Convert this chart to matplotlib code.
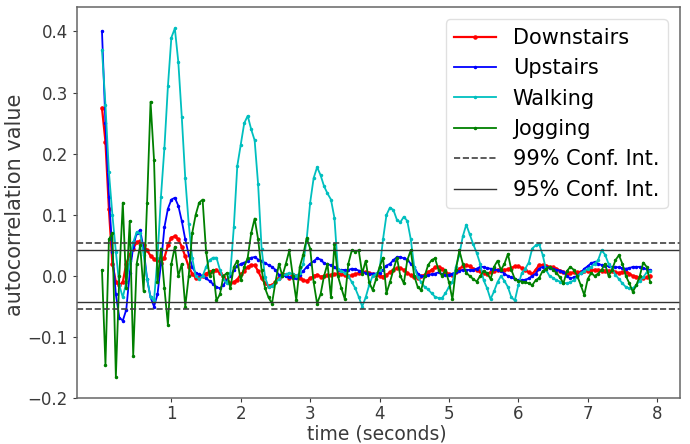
import numpy as np
import matplotlib
matplotlib.use("Agg")
import matplotlib.pyplot as plt

# time axis: 20 Hz lags
time_s = np.arange(159) * 0.05

downstairs = [
    0.275, 0.22, 0.11, 0.02, -0.01, -0.015, -0.01, 0.02, 0.035, 0.045,
    0.055, 0.057, 0.05, 0.042, 0.033, 0.028, 0.026, 0.022, 0.03, 0.05,
    0.063, 0.065, 0.06, 0.048, 0.032, 0.015, 0.004, -0.003, -0.002, 0.0,
    0.004, 0.007, 0.009, 0.01, 0.005, 0.0, -0.008, -0.012, -0.01, -0.006,
    0.003, 0.008, 0.015, 0.018, 0.018, 0.008, -0.004, -0.012, -0.016, -0.015,
    -0.01, -0.003, 0.004, 0.002, -0.003, 0.002, 0.0, -0.003, -0.007, -0.008,
    -0.004, 0.0, 0.002, -0.001, 0.0, 0.001, 0.002, 0.003, 0.004, 0.003,
    0.001, 0.0, 0.001, 0.003, 0.005, 0.007, 0.007, 0.005, 0.003, 0.002,
    0.0, -0.001, 0.002, 0.006, 0.01, 0.013, 0.013, 0.01, 0.005, 0.001,
    -0.002, -0.003, 0.0, 0.002, 0.006, 0.01, 0.014, 0.015, 0.012, 0.007,
    0.003, 0.002, 0.006, 0.012, 0.016, 0.018, 0.016, 0.012, 0.01, 0.008,
    0.005, 0.004, 0.006, 0.009, 0.01, 0.01, 0.01, 0.011, 0.013, 0.016,
    0.016, 0.013, 0.01, 0.006, 0.003, 0.01, 0.018, 0.018, 0.017, 0.015,
    0.014, 0.012, 0.009, 0.006, 0.004, 0.005, 0.006, 0.006, 0.007, 0.008,
    0.009, 0.01, 0.01, 0.01, 0.009, 0.009, 0.009, 0.008, 0.006, 0.005,
    0.006, 0.007, 0.004, 0.0, -0.001, -0.003, -0.004, -0.002, 0.0,
]

upstairs = [
    0.40, 0.25, 0.13, 0.04, -0.03, -0.068, -0.073, -0.055, 0.005, 0.048,
    0.07, 0.075, 0.045, -0.005, -0.035, -0.05, -0.03, 0.02, 0.08, 0.11,
    0.125, 0.128, 0.115, 0.09, 0.06, 0.035, 0.015, 0.005, 0.003, 0.0,
    -0.004, -0.008, -0.013, -0.018, -0.02, -0.015, -0.006, 0.0, 0.01, 0.016,
    0.02, 0.022, 0.024, 0.03, 0.031, 0.027, 0.025, 0.021, 0.018, 0.015,
    0.01, 0.002, 0.0, 0.0, -0.002, -0.003, -0.004, 0.002, 0.008, 0.015,
    0.02, 0.024, 0.029, 0.027, 0.021, 0.019, 0.018, 0.014, 0.01, 0.01,
    0.01, 0.01, 0.012, 0.011, 0.009, 0.007, 0.005, 0.004, 0.004, 0.004,
    0.005, 0.01, 0.017, 0.02, 0.026, 0.031, 0.031, 0.029, 0.027, 0.02,
    0.015, 0.004, 0.0, 0.0, 0.001, 0.003, 0.004, 0.006, 0.003, 0.001,
    0.002, 0.004, 0.006, 0.008, 0.01, 0.01, 0.01, 0.01, 0.012, 0.015,
    0.015, 0.013, 0.012, 0.011, 0.01, 0.008, 0.004, 0.0, -0.002, -0.005,
    -0.007, -0.007, -0.006, -0.004, 0.0, 0.004, 0.012, 0.015, 0.014, 0.013,
    0.012, 0.01, 0.009, 0.007, 0.0, -0.004, -0.002, 0.0, 0.005, 0.012,
    0.016, 0.021, 0.023, 0.02, 0.018, 0.017, 0.016, 0.015, 0.015, 0.014,
    0.013, 0.012, 0.013, 0.015, 0.015, 0.015, 0.013, 0.011, 0.01,
]

walking = [
    0.37, 0.28, 0.17, 0.10, 0.04, -0.015, -0.035, -0.01, 0.025, 0.055,
    0.072, 0.07, 0.035, -0.005, -0.035, -0.04, 0.03, 0.13, 0.21, 0.31,
    0.39, 0.405, 0.35, 0.26, 0.16, 0.085, 0.03, 0.0, -0.005, 0.0,
    0.015, 0.026, 0.03, 0.03, 0.01, -0.005, -0.012, 0.005, 0.08, 0.18,
    0.215, 0.25, 0.262, 0.24, 0.222, 0.15, 0.045, -0.002, -0.018, -0.016,
    -0.012, -0.005, 0.0, 0.003, 0.005, 0.003, 0.0, 0.005, 0.02, 0.06,
    0.12, 0.16, 0.178, 0.165, 0.147, 0.135, 0.125, 0.095, 0.012, 0.008,
    0.005, 0.0, -0.01, -0.02, -0.034, -0.05, -0.035, -0.015, 0.0, 0.003,
    0.01, 0.06, 0.1, 0.112, 0.108, 0.092, 0.088, 0.097, 0.09, 0.06,
    0.015, -0.002, -0.01, -0.018, -0.022, -0.028, -0.034, -0.036, -0.036, -0.028,
    -0.018, -0.01, 0.015, 0.035, 0.065, 0.084, 0.068, 0.052, 0.038, 0.02,
    -0.007, -0.02, -0.038, -0.025, -0.01, 0.0, -0.008, -0.018, -0.035, -0.04,
    -0.015, 0.005, 0.012, 0.022, 0.045, 0.05, 0.052, 0.035, 0.01, 0.0,
    -0.003, -0.007, -0.009, -0.011, -0.012, -0.01, -0.007, -0.002, 0.005, 0.008,
    0.012, 0.015, 0.02, 0.026, 0.042, 0.035, 0.02, 0.012, 0.002, -0.005,
    -0.012, -0.018, -0.02, -0.02, -0.015, -0.008, -0.002, 0.006, 0.008,
]

jogging = [
    0.01, -0.145, 0.06, 0.07, -0.165, 0.0, 0.12, -0.02, 0.09, -0.13,
    0.02, 0.05, -0.025, 0.12, 0.285, 0.19, -0.01, 0.045, -0.02, -0.08,
    0.02, 0.048, 0.0, 0.02, -0.05, 0.0, 0.07, 0.1, 0.12, 0.125,
    0.04, 0.0, 0.01, -0.04, -0.03, 0.0, 0.005, -0.02, 0.015, 0.025,
    -0.007, 0.015, 0.03, 0.07, 0.094, 0.06, 0.01, -0.02, -0.035, -0.045,
    -0.01, 0.02, 0.0, 0.02, 0.042, 0.0, -0.039, 0.015, 0.035, 0.062,
    0.045, -0.01, -0.045, -0.03, 0.0, 0.02, -0.035, 0.053, 0.0, -0.02,
    -0.038, 0.02, 0.042, 0.04, 0.042, 0.004, 0.025, -0.01, -0.023, -0.005,
    0.015, 0.03, -0.028, -0.01, 0.01, 0.03, 0.0, -0.012, 0.026, 0.042,
    0.0, -0.018, -0.023, 0.0, 0.018, 0.026, 0.029, 0.01, 0.0, 0.01,
    -0.01, -0.038, 0.01, 0.042, 0.02, 0.005, 0.0, -0.005, -0.009, 0.0,
    0.008, 0.005, -0.005, 0.015, 0.025, 0.01, 0.02, 0.036, 0.01, -0.005,
    -0.008, -0.009, -0.01, -0.012, -0.015, -0.007, -0.003, 0.008, 0.012, 0.015,
    0.01, 0.005, -0.002, -0.012, 0.008, 0.015, 0.01, 0.0, -0.015, -0.031,
    -0.005, 0.005, 0.0, 0.004, 0.01, 0.02, 0.0, 0.01, 0.026, 0.034,
    0.02, 0.0, -0.012, -0.026, -0.015, 0.0, 0.022, 0.015, -0.01,
]

conf99 = 0.0545
conf95 = 0.0420

series_names = ["Downstairs", "Upstairs", "Walking", "Jogging"]
series_values = [downstairs, upstairs, walking, jogging]
series_colors = ["red", "blue", "c", "green"]
series_ms = [4.5, 3, 3, 3]
series_lw = [1.6, 1.3, 1.3, 1.3]

fig = plt.figure(figsize=(6.9, 4.44), dpi=100)
ax = fig.add_axes([77 / 690, 1 - 398.3 / 444, (680 - 77) / 690, (398.3 - 7) / 444])

for name, vals, col, ms, lw in zip(series_names, series_values, series_colors, series_ms, series_lw):
    ax.plot(time_s, vals, color=col, marker=".", markersize=ms, linewidth=lw, label=name)

ax.axhline(conf99, linestyle="--", color="0.25", linewidth=1.2, label="99% Conf. Int.")
ax.axhline(-conf99, linestyle="--", color="0.25", linewidth=1.2)
ax.axhline(conf95, linestyle="-", color="0.2", linewidth=1.0, label="95% Conf. Int.")
ax.axhline(-conf95, linestyle="-", color="0.2", linewidth=1.0)

ax.set_xlim(-0.36, 8.33)
ax.set_ylim(-0.2, 0.44)
ax.set_xticks([1, 2, 3, 4, 5, 6, 7, 8])
ax.set_yticks([-0.2, -0.1, 0.0, 0.1, 0.2, 0.3, 0.4])
ax.tick_params(labelsize=12, colors="#3a3a3a", length=3)
ax.tick_params(axis="x", pad=1.5)
for sp in ax.spines.values():
    sp.set_color("0.4")
    sp.set_linewidth(1.1)

xl = ax.set_xlabel("time (seconds)", fontsize=13.5, color="#3a3a3a")
yl = ax.set_ylabel("autocorrelation value", fontsize=15, color="#3a3a3a")
xl.set_verticalalignment("bottom")
yl.set_verticalalignment("center")
ax.xaxis.set_label_coords(0.4975, -(443.5 - 398.3) / 391.3)
ax.yaxis.set_label_coords((15 - 77) / 603, 0.494)

leg = ax.legend(loc="upper right", fontsize=15, borderaxespad=0.6, handlelength=2.0)
leg.get_frame().set_edgecolor("0.85")

fig.savefig("out.png", dpi=100)
